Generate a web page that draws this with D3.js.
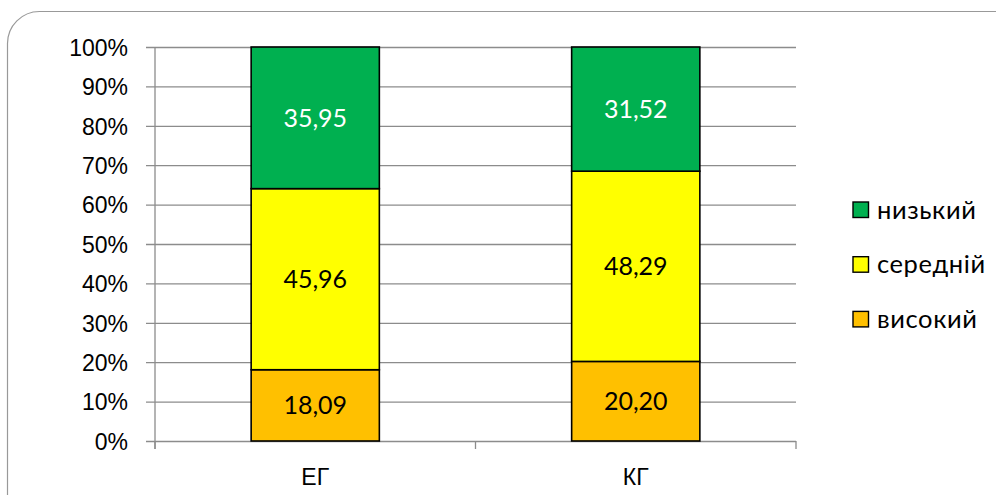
<!DOCTYPE html>
<html><head><meta charset="utf-8">
<script src="https://cdn.jsdelivr.net/npm/d3@7"></script>
<style>
html,body{margin:0;padding:0;background:#fff;}
svg{display:block;font-family:Lato,"Open Sans","DejaVu Sans",sans-serif;}
</style></head>
<body>
<svg id="chart" width="996" height="495"></svg>
<script>
const categories = ["ЕГ", "КГ"];
const seriesNames = ["високий", "середній", "низький"];
const visokyi = [18.09, 20.20];
const seredniy = [45.96, 48.29];
const nyzkyi = [35.95, 31.52];
const labelText = {"високий": ["18,09", "20,20"], "середній": ["45,96", "48,29"], "низький": ["35,95", "31,52"]};
const yTicks = [0, 10, 20, 30, 40, 50, 60, 70, 80, 90, 100];
const colors = {"високий": "#FFC000", "середній": "#FFFF00", "низький": "#00B050"};
const labelColors = {"високий": "#000", "середній": "#000", "низький": "#fff"};

(function () {
const svg = d3.select("#chart");
// frame
svg.append("rect").attr("x", 7.5).attr("y", 11.5).attr("width", 1020).attr("height", 520)
  .attr("rx", 32).attr("ry", 32).attr("fill", "#fff").attr("stroke", "#999").attr("stroke-width", 1.2);

const pLeft = 155, pRight = 796, pTop = 47, pBottom = 441;
const x = d3.scaleBand().domain(categories).range([pLeft, pRight]).paddingInner(0.6).paddingOuter(0.3);
const xb = d3.scaleBand().domain(categories).range([pLeft, pRight]);
const y = d3.scaleLinear().domain([0, 100]).range([pBottom, pTop]);

const rows = categories.map((c, i) => {
  const tot = visokyi[i] + seredniy[i] + nyzkyi[i];
  return {cat: c, i, "високий": visokyi[i] / tot * 100, "середній": seredniy[i] / tot * 100, "низький": nyzkyi[i] / tot * 100};
});
const stacked = d3.stack().keys(seriesNames)(rows);

// gridlines
const gy = svg.append("g").attr("transform", `translate(${pLeft},0)`)
  .call(d3.axisLeft(y).tickValues(yTicks).tickSize(-(pRight - pLeft)).tickFormat(d => d + "%").tickPadding(27));
gy.select(".domain").remove();
gy.selectAll(".tick line").attr("stroke", "#8c8c8c").attr("stroke-width", 1.3).attr("x1", -9);
gy.selectAll(".tick text").attr("font-size", 23).attr("fill", "#000").attr("dy", "0.36em");
// y axis line
svg.append("line").attr("x1", pLeft).attr("x2", pLeft).attr("y1", pTop).attr("y2", pBottom + 8)
  .attr("stroke", "#8c8c8c").attr("stroke-width", 1.3);

// x axis
const gx = svg.append("g").attr("transform", `translate(0,${pBottom})`)
  .call(d3.axisBottom(xb).tickSize(0).tickPadding(28));
gx.select(".domain").remove();
gx.selectAll(".tick text").attr("font-size", 23).attr("fill", "#000");
const boundaries = [pLeft].concat(categories.map(c => xb(c) + xb.bandwidth()));
svg.append("g").selectAll("line").data(boundaries).join("line")
  .attr("x1", d => d).attr("x2", d => d).attr("y1", pBottom).attr("y2", pBottom + 8)
  .attr("stroke", "#8c8c8c").attr("stroke-width", 1.3);

// bars
const layers = svg.append("g").selectAll("g").data(stacked).join("g");
layers.selectAll("rect").data(d => d.map(p => ({p, key: d.key}))).join("rect")
  .attr("x", d => x(d.p.data.cat)).attr("width", x.bandwidth())
  .attr("y", d => y(d.p[1])).attr("height", d => y(d.p[0]) - y(d.p[1]))
  .attr("fill", d => colors[d.key]).attr("stroke", "#000").attr("stroke-width", 1.6);
layers.selectAll("text").data(d => d.map(p => ({p, key: d.key}))).join("text")
  .attr("x", d => x(d.p.data.cat) + x.bandwidth() / 2)
  .attr("y", d => (y(d.p[0]) + y(d.p[1])) / 2)
  .attr("dy", "0.36em").attr("text-anchor", "middle").attr("font-size", 25)
  .attr("fill", d => labelColors[d.key])
  .text(d => labelText[d.key][d.p.data.i]);

// legend
const legendOrder = ["низький", "середній", "високий"];
const lg = svg.append("g").selectAll("g").data(legendOrder).join("g")
  .attr("transform", (d, i) => `translate(853,${209.5 + i * 54.7})`);
lg.append("rect").attr("x", 0).attr("y", -7.5).attr("width", 15.5).attr("height", 15.5)
  .attr("fill", d => colors[d]).attr("stroke", "#000").attr("stroke-width", 1.4);
lg.append("text").attr("x", 24).attr("y", 0).attr("dy", "0.36em").attr("font-size", 25.5)
  .attr("letter-spacing", 0.6).attr("fill", "#000").text(d => d);
})();
</script>
</body></html>
